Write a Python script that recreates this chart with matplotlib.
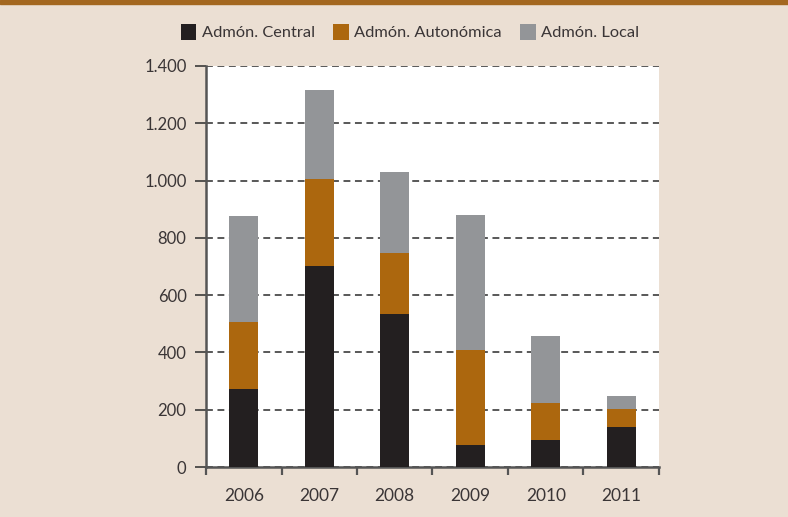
import matplotlib
matplotlib.use("Agg")
import matplotlib.pyplot as plt
from matplotlib.ticker import FuncFormatter, FixedLocator
import numpy as np

years = ["2006", "2007", "2008", "2009", "2010", "2011"]
central = [272, 702, 534, 77, 94, 140]
autonomica = [234, 304, 213, 331, 129, 63]
local = [370, 310, 283, 472, 234, 45]
series_names = ["Admón. Central", "Admón. Autonómica", "Admón. Local"]
colors = ["#231f20", "#ac670e", "#939598"]

bg = "#ebdfd3"
txt = "#3a3536"

fig = plt.figure(figsize=(7.88, 5.17), dpi=100, facecolor=bg)
ax = fig.add_axes([206/788, 1-467/517, (659-206)/788, (467-66)/517])
ax.set_facecolor("white")

x = np.arange(len(years))
bottom = np.zeros(len(years))
for vals, name, c in zip([central, autonomica, local], series_names, colors):
    ax.bar(x, vals, width=0.39, bottom=bottom, color=c, label=name,
           linewidth=0, zorder=3)
    bottom += np.array(vals)

ax.set_xlim(-0.5, len(years) - 0.5)
ax.set_ylim(0, 1400)
ax.set_yticks(range(0, 1401, 200))
ax.yaxis.set_major_formatter(FuncFormatter(lambda v, p: f"{int(v):,}".replace(",", ".")))
ax.yaxis.grid(True, linestyle=(0, (4.5, 3)), color="#2b2b2b", linewidth=1.1, zorder=1)
ax.set_axisbelow(True)

ax.set_xticks(x)
ax.set_xticklabels(years)
ax.xaxis.set_minor_locator(FixedLocator(np.arange(-0.5, len(years), 1.0)))
ax.tick_params(axis="x", which="major", length=0, pad=15, labelsize=12.5, labelcolor=txt)
ax.tick_params(axis="x", which="minor", length=6, width=1.6, color="#555555", direction="out")
ax.tick_params(axis="y", length=8, width=1.1, color="#2b2b2b", pad=6, labelsize=12, labelcolor=txt)

for s in ["top", "right"]:
    ax.spines[s].set_visible(False)
for s in ["left", "bottom"]:
    ax.spines[s].set_color("#555555")
    ax.spines[s].set_linewidth(1.8)

for lab in ax.get_xticklabels() + ax.get_yticklabels():
    lab.set_family(["Lato", "DejaVu Sans"])

leg = fig.legend(loc="center", bbox_to_anchor=(410/788, 1-32/517), ncol=3, frameon=False,
                 handlelength=0.95, handleheight=1.1, handletextpad=0.35, columnspacing=1.1,
                 prop={"family": ["Lato", "DejaVu Sans"], "size": 11.8})
for t in leg.get_texts():
    t.set_color(txt)

# top brown rule
fig.add_artist(plt.Rectangle((0, 1-3.5/517), 1, 3.5/517, transform=fig.transFigure,
                             color="#a3671f", zorder=5))

fig.savefig("out.png", dpi=100, facecolor=bg)
